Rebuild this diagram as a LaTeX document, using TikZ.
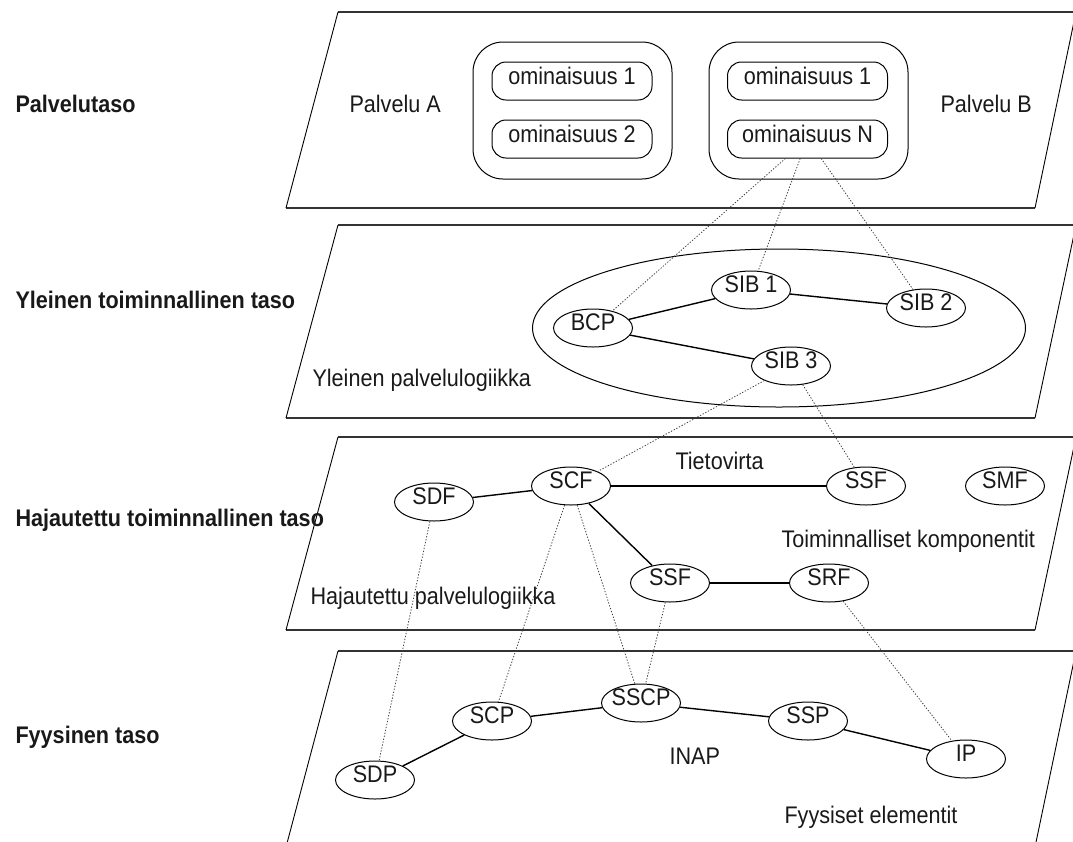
\documentclass[tikz,border=0pt]{standalone}
\usepackage{fontspec}
\setmainfont{Liberation Sans}[FakeStretch=0.9]
\usetikzlibrary{shapes.geometric}
\begin{document}
\begin{tikzpicture}[x=1pt,y=-1pt,
  every node/.style={font=\fontsize{24}{28}\selectfont, text=black!90},
  edgeh/.style={line width=1.5pt, draw=black!80},
  edges/.style={line width=0.9pt, draw=black},
  layertitle/.style={anchor=base west, font=\fontsize{24}{28}\selectfont\bfseries},
  caption/.style={anchor=base west},
  service/.style={draw, line width=1pt, rounded corners=30pt, minimum width=199pt, minimum height=137pt},
  feature/.style={draw, line width=1pt, rounded corners=14pt, minimum width=160pt, minimum height=38pt, inner sep=0pt, text depth=10pt},
  elem/.style={draw, ellipse, line width=1pt, minimum width=79pt, minimum height=38pt, inner xsep=-4pt, inner ysep=-1.5pt, text depth=11pt},
  link/.style={line width=1.4pt},
  trace/.style={line width=0.8pt, draw=black!75, dash pattern=on 1.3pt off 1.7pt}
]
\useasboundingbox (0,0) rectangle (1073,841);
\clip (0,0) rectangle (1073,841);

% the four layer planes
\foreach \t/\b in {12/208, 225/418, 437/630, 651/847} {
  \draw[edgeh] (338,\t) -- (1076,\t);
  \draw[edgeh] (286,\b) -- (1035,\b);
  \draw[edges] (338,\t) -- (286,\b);
  \draw[edges] (1076,\t) -- (1035,\b);
}

% layer titles
\node[layertitle] (t1) at (12,112) {Palvelutaso};
\node[layertitle] (t2) at (12,308) {Yleinen toiminnallinen taso};
\node[layertitle] (t3) at (12,526) {Hajautettu toiminnallinen taso};
\node[layertitle] (t4) at (12,743) {Fyysinen taso};

% service plane
\node[caption] (pa) at (346,112) {Palvelu A};
\node[caption] (pb) at (937,112) {Palvelu B};
\node[service] (sa) at (572.5,110.5) {};
\node[service] (sb) at (808.5,110.5) {};
\node[feature] (a1) at (572,81) {ominaisuus 1};
\node[feature] (a2) at (572,139) {ominaisuus 2};
\node[feature] (b1) at (807.5,81) {ominaisuus 1};
\node[feature] (bn) at (807.5,139) {ominaisuus N};

% global functional plane
\node[draw, ellipse, line width=1pt, minimum width=493pt, minimum height=158pt] (gsl) at (779,328) {};
\node[caption] (gsltxt) at (309,386) {Yleinen palvelulogiikka};
\node[elem] (bcp) at (593,328) {BCP};
\node[elem] (sib1) at (751,290) {SIB 1};
\node[elem] (sib2) at (926,308) {SIB 2};
\node[elem] (sib3) at (791,366) {SIB 3};

% distributed functional plane
\node[elem] (sdf) at (434,502) {SDF};
\node[elem] (scf) at (571,486) {SCF};
\node[elem] (ssfa) at (866,486) {SSF};
\node[elem] (smf) at (1005,486) {SMF};
\node[elem] (ssfb) at (670,583) {SSF};
\node[elem] (srf) at (829,583) {SRF};
\node[caption] (flow) at (672,469) {Tietovirta};
\node[caption] (fc) at (778,547) {Toiminnalliset komponentit};
\node[caption] (dsl) at (307,604) {Hajautettu palvelulogiikka};

% physical plane
\node[elem] (sscp) at (641,703) {SSCP};
\node[elem] (scp) at (492,721) {SCP};
\node[elem] (sdp) at (375,780) {SDP};
\node[elem] (ssp) at (808,721) {SSP};
\node[elem] (ip) at (966,759) {IP};
\node[caption] (inap) at (666,764) {INAP};
\node[caption] (pe) at (781,823) {Fyysiset elementit};

% relations inside the planes
\draw[link] (bcp) -- (sib1);
\draw[link] (sib1) -- (sib2);
\draw[link] (bcp) -- (sib3);
\draw[link] (sdf) -- (scf);
\draw[link] (scf) -- (ssfa);
\draw[link] (scf) -- (ssfb);
\draw[link] (ssfb) -- (srf);
\draw[link] (sdp) -- (scp);
\draw[link] (scp) -- (sscp);
\draw[link] (sscp) -- (ssp);
\draw[link] (ssp) -- (ip);

% mappings between planes
\draw[trace] (bn) -- (bcp);
\draw[trace] (bn) -- (sib1);
\draw[trace] (bn) -- (sib2);
\draw[trace] (sib3) -- (scf);
\draw[trace] (sib3) -- (ssfa);
\draw[trace] (sdf) -- (sdp);
\draw[trace] (scf) -- (scp);
\draw[trace] (scf) -- (sscp);
\draw[trace] (ssfb) -- (sscp);
\draw[trace] (srf) -- (ip);
\end{tikzpicture}
\end{document}
